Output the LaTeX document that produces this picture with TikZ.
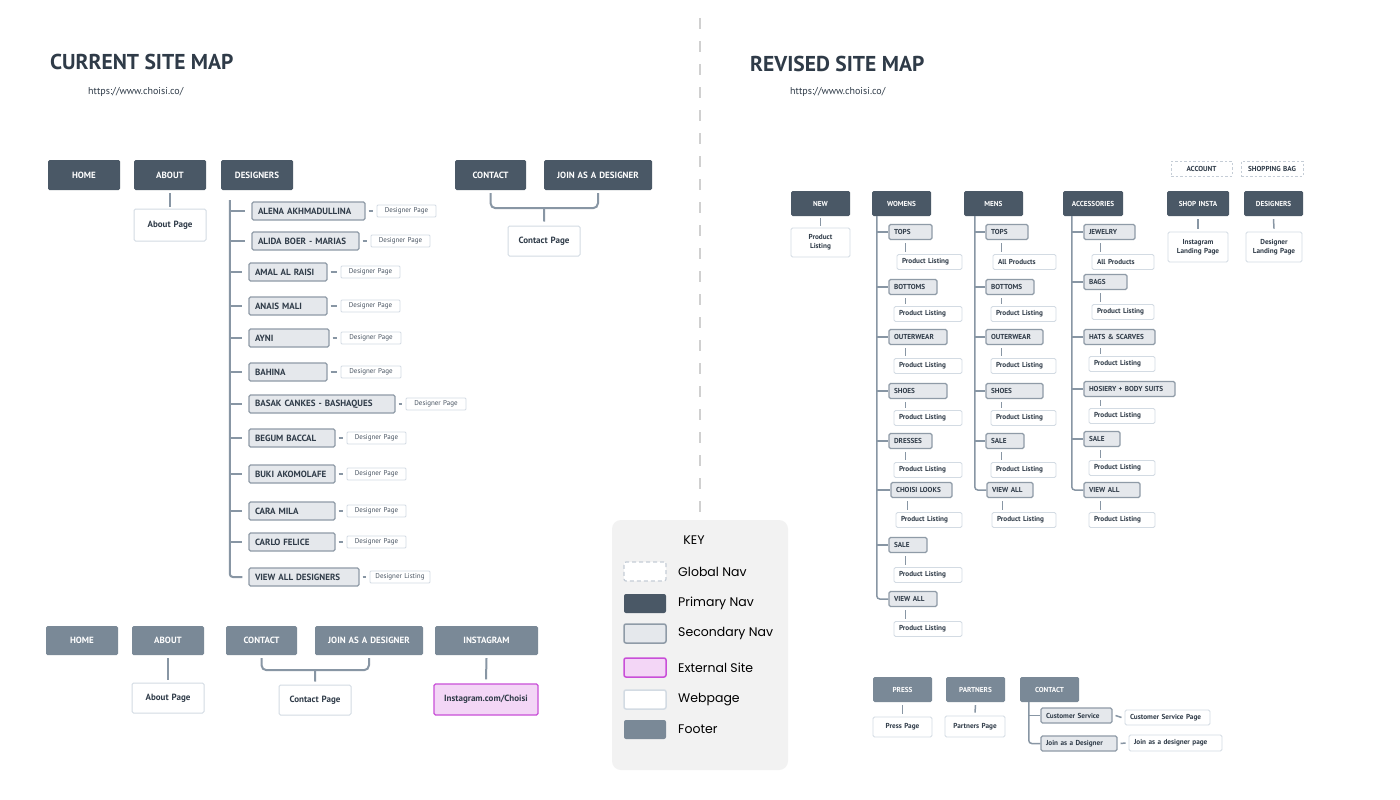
\nonstopmode
\documentclass[tikz,border=0pt]{standalone}
\usepackage{fontspec}
\setmainfont{PT Sans}
\newfontfamily\keyfont{Poppins}
\usetikzlibrary{calc}
\definecolor{primc}{HTML}{4A5866}
\definecolor{footc}{HTML}{7A8997}
\definecolor{secf}{HTML}{E5E8EC}
\definecolor{secd}{HTML}{8F9BA7}
\definecolor{webd}{HTML}{D3DBE3}
\definecolor{extf}{HTML}{F3D6F6}
\definecolor{extd}{HTML}{C94FD8}
\definecolor{linec}{HTML}{8896A4}
\definecolor{txtc}{HTML}{2F3B48}
\definecolor{dptxt}{HTML}{4A5563}
\definecolor{keyc}{HTML}{F2F2F2}
\definecolor{divc}{HTML}{D0D0D0}
\definecolor{globd}{HTML}{C5CDD6}
\newcommand\myfL{\fontsize{9}{10.5}\selectfont\bfseries}
\newcommand\myfR{\fontsize{7.2}{8.8}\selectfont\bfseries}
\newcommand\myfDP{\fontsize{7}{8}\selectfont}
% centred box: style name x1 y1 x2 y2 text
\newcommand\bxc[7]{%
  \pgfmathsetmacro\mymw{#5-#3}\pgfmathsetmacro\mymh{#6-#4}%
  \pgfmathsetmacro\mytw{#5-#3-4}%
  \pgfmathsetmacro\mycx{(#3+#5)/2}\pgfmathsetmacro\mycy{(#4+#6)/2}%
  \node[#1,minimum width=\mymw pt,minimum height=\mymh pt,text width=\mytw pt,align=center,inner xsep=2pt,inner ysep=0pt] (#2) at (\mycx,\mycy) {#7};}
% left aligned box: [pad] style name x1 y1 x2 y2 text
\newcommand\bxl[8][6]{%
  \pgfmathsetmacro\mymw{#6-#4}\pgfmathsetmacro\mymh{#7-#5}%
  \pgfmathsetmacro\mytw{#6-#4-2*#1}%
  \pgfmathsetmacro\mycx{(#4+#6)/2}\pgfmathsetmacro\mycy{(#5+#7)/2}%
  \node[#2,minimum width=\mymw pt,minimum height=\mymh pt,text width=\mytw pt,align=left,inner xsep=#1pt,inner ysep=0pt] (#3) at (\mycx,\mycy) {#8};}
\tikzset{
  primL/.style={fill=primc,text=white,rounded corners=1.5pt,font=\myfL},
  footL/.style={fill=footc,text=white,rounded corners=1.5pt,font=\myfL},
  secL/.style={fill=secf,draw=secd,line width=1.2pt,rounded corners=1.5pt,text=txtc,font=\myfL},
  webL/.style={fill=white,draw=webd,line width=1pt,rounded corners=1.5pt,text=txtc,font=\myfL},
  extL/.style={fill=extf,draw=extd,line width=1.2pt,rounded corners=1.5pt,text=txtc,font=\myfL},
  dpg/.style={fill=white,draw=webd,line width=0.8pt,rounded corners=1pt,text=dptxt,font=\myfDP},
  primR/.style={fill=primc,text=white,rounded corners=1.5pt,font=\myfR},
  footR/.style={fill=footc,text=white,rounded corners=1.5pt,font=\myfR},
  secR/.style={fill=secf,draw=secd,line width=1.1pt,rounded corners=1.5pt,text=txtc,font=\myfR},
  webR/.style={fill=white,draw=webd,line width=0.9pt,rounded corners=1.5pt,text=txtc,font=\myfR},
  globR/.style={fill=white,draw=globd,line width=0.8pt,dash pattern=on 2.5pt off 2pt,text=txtc,font=\myfR},
  conn/.style={draw=linec,line width=2pt},
  connR/.style={draw=linec,line width=1.5pt},
  keybg/.style={fill=keyc,rounded corners=9pt},
  keylab/.style={font=\keyfont\fontsize{12.5}{14}\selectfont,text=black,anchor=west,inner sep=0pt},
  kglob/.style={fill=white,draw=globd,line width=1.2pt,dash pattern=on 4pt off 3pt,rounded corners=2pt},
  kprim/.style={fill=primc,rounded corners=2pt},
  ksec/.style={fill=secf,draw=secd,line width=1.5pt,rounded corners=2pt},
  kext/.style={fill=extf,draw=extd,line width=1.5pt,rounded corners=2pt},
  kweb/.style={fill=white,draw=webd,line width=1.5pt,rounded corners=2pt},
  kfoot/.style={fill=footc,rounded corners=2pt},
  titlest/.style={font=\fontsize{21.5}{24}\selectfont\bfseries,text=txtc,anchor=base west,inner sep=0pt},
  urlst/.style={font=\fontsize{10}{12}\selectfont,text=txtc,anchor=base west,inner sep=0pt},
}
\begin{document}
\begin{tikzpicture}[x=1pt,y=-1pt]
\fill[white] (0,0) rectangle (1400,800);
\useasboundingbox (0,0) rectangle (1400,800);

% divider
\draw[divc,line width=2pt,dash pattern=on 11pt off 12pt] (700,18) -- (700,512);

% titles
\node[titlest] (t1) at (50,70) {CURRENT SITE MAP};
\node[urlst] (u1) at (88,94) {https://www.choisi.co/};
\node[titlest] (t2) at (750,71) {REVISED SITE MAP};
\node[urlst] (u2) at (790,95) {https://www.choisi.co/};

% ---------------- CURRENT: primary
\bxc{primL}{home}{48}{160}{120}{190}{HOME}
\bxc{primL}{about}{134}{160}{206}{190}{ABOUT}
\bxc{primL}{designers}{221}{160}{293}{190}{DESIGNERS}
\bxc{primL}{contact}{455}{160}{526}{190}{CONTACT}
\bxc{primL}{join}{544}{160}{652}{190}{JOIN AS A DESIGNER}
\bxc{webL}{aboutpage}{134}{209}{206}{241}{About Page}
\bxc{webL}{contactpage}{508}{226}{580}{256}{Contact Page}
\draw[conn] ([yshift=-3pt]about.south) -- ([yshift=2pt]aboutpage.north);
\coordinate (cbm) at ($(contact.south)!0.5!(join.south)+(0,18)$);
\draw[conn,rounded corners=5pt] ([yshift=-3pt]contact.south) |- (cbm) -| ([yshift=-3pt]join.south);
\draw[conn] (cbm) -- ([yshift=4pt]contactpage.north);

% designers
\bxl{secL}{d1}{252}{202}{365}{220}{ALENA AKHMADULLINA}
\bxl{secL}{d2}{252}{232}{359}{250}{ALIDA BOER - MARIAS}
\bxl{secL}{d3}{249}{263}{327}{281}{AMAL AL RAISI}
\bxl{secL}{d4}{249}{297}{327}{315}{ANAIS MALI}
\bxl{secL}{d5}{249}{329}{329}{347}{AYNI}
\bxl{secL}{d6}{249}{363}{327}{381}{BAHINA}
\bxl{secL}{d7}{249}{395}{395}{413}{BASAK CANKES - BASHAQUES}
\bxl{secL}{d8}{249}{429}{335}{447}{BEGUM BACCAL}
\bxl{secL}{d9}{249}{465}{335}{483}{BUKI AKOMOLAFE}
\bxl{secL}{d10}{249}{502}{335}{520}{CARA MILA}
\bxl{secL}{d11}{249}{533}{335}{551}{CARLO FELICE}
\bxl{secL}{d12}{249}{568}{359}{586}{VIEW ALL DESIGNERS}
\bxc{dpg}{p1}{377}{205}{436}{217}{Designer Page}
\bxc{dpg}{p2}{371}{235}{430}{247}{Designer Page}
\bxc{dpg}{p3}{341}{266}{400}{278}{Designer Page}
\bxc{dpg}{p4}{341}{300}{400}{312}{Designer Page}
\bxc{dpg}{p5}{341}{332}{401}{344}{Designer Page}
\bxc{dpg}{p6}{341}{366}{401}{378}{Designer Page}
\bxc{dpg}{p7}{406}{398}{466}{410}{Designer Page}
\bxc{dpg}{p8}{347}{432}{406}{444}{Designer Page}
\bxc{dpg}{p9}{347}{468}{406}{480}{Designer Page}
\bxc{dpg}{p10}{347}{505}{406}{517}{Designer Page}
\bxc{dpg}{p11}{347}{536}{406}{548}{Designer Page}
\bxc{dpg}{p12}{370}{571}{430}{583}{Designer Listing}
\coordinate (dtr) at ($(designers.south west)+(9,10)$);
\draw[conn,rounded corners=3pt] (dtr) |- ([xshift=-6pt]d12.west);
\foreach \i in {1,...,11}{\draw[conn] (dtr |- d\i.west) -- ([xshift=-6pt]d\i.west);}
\foreach \i in {1,...,12}{\draw[conn,line width=1.6pt] ([xshift=3pt]d\i.east) -- ([xshift=-3.5pt]p\i.west);}

% footer current
\bxc{footL}{fhome}{46}{626}{118}{655}{HOME}
\bxc{footL}{fabout}{132}{626}{204}{655}{ABOUT}
\bxc{footL}{fcontact}{226}{626}{297}{655}{CONTACT}
\bxc{footL}{fjoin}{315}{626}{423}{655}{JOIN AS A DESIGNER}
\bxc{footL}{finsta}{435}{626}{538}{655}{INSTAGRAM}
\bxc{webL}{faboutpage}{132}{683}{204}{713}{About Page}
\bxc{webL}{fcontactpage}{279}{685}{351}{715}{Contact Page}
\bxc{extL}{finstapage}{434}{684}{538}{715}{Instagram.com/Choisi}
\draw[conn] ([yshift=-3pt]fabout.south) -- ([yshift=3pt]faboutpage.north);
\draw[conn] ([yshift=-3pt]finsta.south) -- ([yshift=4pt]finstapage.north);
\coordinate (fcbm) at ($(fcontact.south)!0.5!(fjoin.south)+(0,15)$);
\draw[conn,rounded corners=5pt] ([yshift=-3pt]fcontact.south) |- (fcbm) -| ([yshift=-3pt]fjoin.south);
\draw[conn] (fcbm) -- ([yshift=3pt]fcontactpage.north);

% ---------------- KEY
\bxc{keybg}{keybox}{612}{520}{788}{770}{}
\node[font=\keyfont\fontsize{12.5}{14}\selectfont,text=black] (keyt) at (694,540) {KEY};
\bxc{kglob}{k1}{624}{562}{666}{581}{}
\bxc{kprim}{k2}{624}{594}{666}{613}{}
\bxc{ksec}{k3}{624}{624}{666}{643}{}
\bxc{kext}{k4}{624}{658}{666}{677}{}
\bxc{kweb}{k5}{624}{690}{666}{709}{}
\bxc{kfoot}{k6}{624}{720}{666}{739}{}
\node[keylab] (k1l) at (678,571.5) {Global Nav};
\node[keylab] (k2l) at (678,603.5) {Primary Nav};
\node[keylab] (k3l) at (678,633.5) {Secondary Nav};
\node[keylab] (k4l) at (678,667.5) {External Site};
\node[keylab] (k5l) at (678,699.5) {Webpage};
\node[keylab] (k6l) at (678,729.5) {Footer};

% ---------------- REVISED
\bxc{globR}{account}{1171}{161}{1232}{176}{ACCOUNT}
\bxc{globR}{shopbag}{1241}{161}{1303}{176}{SHOPPING BAG}
\bxc{primR}{rnew}{791}{191}{850}{216}{NEW}
\bxc{primR}{womens}{872}{191}{931}{216}{WOMENS}
\bxc{primR}{mens}{964}{191}{1023}{216}{MENS}
\bxc{primR}{acc}{1063}{191}{1123}{216}{ACCESSORIES}
\bxc{primR}{shopinsta}{1167}{191}{1229}{216}{SHOP INSTA}
\bxc{primR}{rdes}{1244}{191}{1303}{216}{DESIGNERS}
\bxc{webR}{newpl}{791}{228}{850}{257}{Product\\Listing}
\bxc{webR}{instapage}{1168}{232}{1228}{262}{Instagram\\Landing Page}
\bxc{webR}{despage}{1246}{232}{1302}{262}{Designer\\Landing Page}
\draw[connR] ([yshift=-2pt]rnew.south) -- ([yshift=2pt]newpl.north);
\draw[connR] ([yshift=-3pt]shopinsta.south) -- ([yshift=3pt]instapage.north);
\draw[connR] ([yshift=-3pt]rdes.south) -- ([yshift=3pt]despage.north);

% womens
\bxl[5]{secR}{w1}{889}{224.5}{932}{239.5}{TOPS}
\bxl[5]{secR}{w2}{889}{279.5}{937}{294.5}{BOTTOMS}
\bxl[5]{secR}{w3}{889}{329.5}{947}{344.5}{OUTERWEAR}
\bxl[5]{secR}{w4}{889}{383.5}{947}{398.5}{SHOES}
\bxl[5]{secR}{w5}{889}{433.5}{932}{448.5}{DRESSES}
\bxl[5]{secR}{w6}{891}{482.5}{952}{497.5}{CHOISI LOOKS}
\bxl[5]{secR}{w7}{889}{537.5}{927}{552.5}{SALE}
\bxl[5]{secR}{w8}{889}{591.5}{937}{606.5}{VIEW ALL}
\bxl[5]{webR}{wp1}{897}{254.5}{962}{269.5}{Product Listing}
\bxl[5]{webR}{wp2}{894}{306.5}{962}{321.5}{Product Listing}
\bxl[5]{webR}{wp3}{894}{358.5}{962}{373.5}{Product Listing}
\bxl[5]{webR}{wp4}{894}{410.5}{962}{425.5}{Product Listing}
\bxl[5]{webR}{wp5}{894}{462.5}{962}{477.5}{Product Listing}
\bxl[5]{webR}{wp6}{896}{512.5}{962}{527.5}{Product Listing}
\bxl[5]{webR}{wp7}{894}{567.5}{962}{582.5}{Product Listing}
\bxl[5]{webR}{wp8}{894}{621.5}{962}{636.5}{Product Listing}
\coordinate (wtr) at ($(womens.south west)+(5,0)$);
\draw[connR,rounded corners=3pt] (wtr) |- (w8.west);
\foreach \i in {1,...,7}{\draw[connR] (wtr |- w\i.west) -- (w\i.west);}
\foreach \i in {1,...,8}{\draw[connR] ($(w\i.south west)+(17,3)$) -- ($(w\i.south west |- wp\i.north)+(17,-2)$);}

% mens
\bxl[5]{secR}{m1}{986}{224.5}{1028}{239.5}{TOPS}
\bxl[5]{secR}{m2}{986}{279.5}{1034}{294.5}{BOTTOMS}
\bxl[5]{secR}{m3}{986}{329.5}{1043}{344.5}{OUTERWEAR}
\bxl[5]{secR}{m4}{986}{383.5}{1043}{398.5}{SHOES}
\bxl[5]{secR}{m5}{986}{433.5}{1024}{448.5}{SALE}
\bxl[5]{secR}{m6}{987}{482.5}{1033}{497.5}{VIEW ALL}
\bxl[5]{webR}{mp1}{993}{254.5}{1056}{269.5}{All Products}
\bxl[5]{webR}{mp2}{991}{306.5}{1056}{321.5}{Product Listing}
\bxl[5]{webR}{mp3}{991}{358.5}{1056}{373.5}{Product Listing}
\bxl[5]{webR}{mp4}{991}{410.5}{1056}{425.5}{Product Listing}
\bxl[5]{webR}{mp5}{991}{462.5}{1056}{477.5}{Product Listing}
\bxl[5]{webR}{mp6}{992}{512.5}{1056}{527.5}{Product Listing}
\coordinate (mtr) at ($(mens.south west)+(11,0)$);
\draw[connR,rounded corners=3pt] (mtr) |- (m6.west);
\foreach \i in {1,...,5}{\draw[connR] (mtr |- m\i.west) -- (m\i.west);}
\foreach \i in {1,...,6}{\draw[connR] ($(m\i.south west)+(16,3)$) -- ($(m\i.south west |- mp\i.north)+(16,-2)$);}

% accessories
\bxl[5]{secR}{a1}{1084}{224.5}{1135}{239.5}{JEWELRY}
\bxl[5]{secR}{a2}{1084}{274.5}{1127}{289.5}{BAGS}
\bxl[5]{secR}{a3}{1084}{329.5}{1155}{344.5}{HATS \& SCARVES}
\bxl[5]{secR}{a4}{1084}{381.5}{1175}{396.5}{HOSIERY + BODY SUITS}
\bxl[5]{secR}{a5}{1084}{431.5}{1120}{446.5}{SALE}
\bxl[5]{secR}{a6}{1084}{482.5}{1140}{497.5}{VIEW ALL}
\bxl[5]{webR}{ap1}{1092}{254.5}{1154}{269.5}{All Products}
\bxl[5]{webR}{ap2}{1092}{304.5}{1154}{319.5}{Product Listing}
\bxl[5]{webR}{ap3}{1089}{356.5}{1155}{371.5}{Product Listing}
\bxl[5]{webR}{ap4}{1089}{408.5}{1155}{423.5}{Product Listing}
\bxl[5]{webR}{ap5}{1089}{460.5}{1155}{475.5}{Product Listing}
\bxl[5]{webR}{ap6}{1089}{512.5}{1155}{527.5}{Product Listing}
\coordinate (atr) at ($(acc.south west)+(9,0)$);
\draw[connR,rounded corners=3pt] (atr) |- (a6.west);
\foreach \i in {1,...,5}{\draw[connR] (atr |- a\i.west) -- (a\i.west);}
\foreach \i in {1,...,6}{\draw[connR] ($(a\i.south west)+(17,3)$) -- ($(a\i.south west |- ap\i.north)+(17,-2)$);}

% footer revised
\bxc{footR}{press}{873}{677}{932}{702}{PRESS}
\bxc{footR}{partners}{946}{677}{1005}{702}{PARTNERS}
\bxc{footR}{rcontact}{1020}{677}{1079}{702}{CONTACT}
\bxc{webR}{presspage}{873}{717}{932}{737}{Press Page}
\bxc{webR}{partnerspage}{945}{716}{1005}{737}{Partners Page}
\bxl[5]{secR}{csv}{1041}{708}{1112}{723}{Customer Service}
\bxl[5]{secR}{jnd}{1041}{736}{1117}{751}{Join as a Designer}
\bxl[5]{webR}{csvp}{1125}{710}{1210}{725}{Customer Service Page}
\bxl[5]{webR}{jndp}{1129}{735}{1222}{751}{Join as a designer page}
\draw[connR] ([yshift=-3pt]press.south) -- ([yshift=3pt]presspage.north);
\draw[connR] ([yshift=-3pt]partners.south) -- ([yshift=3pt]partnerspage.north);
\coordinate (rct) at ($(rcontact.south west)+(9,0)$);
\draw[connR,rounded corners=3pt] (rct) |- (jnd.west);
\draw[connR] (rct |- csv.west) -- (csv.west);
\draw[connR] ([xshift=3pt]csv.east) -- ([xshift=-3pt]csvp.west);
\draw[connR] ([xshift=3pt]jnd.east) -- ([xshift=-3pt]jndp.west);
\end{tikzpicture}
\end{document}
